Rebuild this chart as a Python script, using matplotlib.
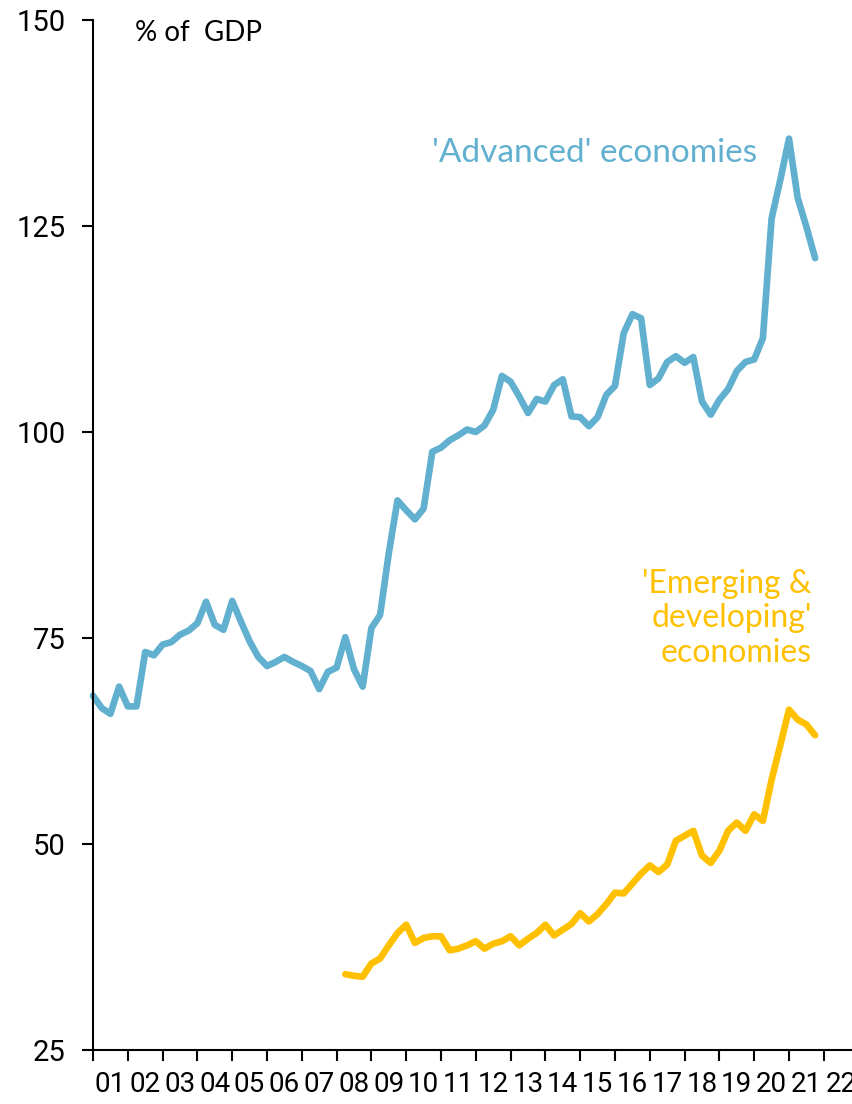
import numpy as np
import matplotlib
matplotlib.use("Agg")
import matplotlib.pyplot as plt
from matplotlib import font_manager
from matplotlib.ticker import FixedLocator, FixedFormatter, NullFormatter

# Quarterly debt-to-GDP ratios, 2001 Q1 - 2021 Q4
advanced = [
    68.0, 66.5, 65.8, 69.1, 66.7, 66.7, 73.3, 72.9, 74.2, 74.5,
    75.4, 75.9, 76.8, 79.4, 76.6, 76.0, 79.5, 77.0, 74.6, 72.7,
    71.6, 72.1, 72.7, 72.1, 71.6, 71.0, 68.8, 70.9, 71.4, 75.1,
    71.2, 69.1, 76.2, 77.8, 85.3, 91.7, 90.5, 89.4, 90.7, 97.6,
    98.1, 99.0, 99.6, 100.3, 100.0, 100.8, 102.7, 106.8, 106.1, 104.3,
    102.3, 104.0, 103.7, 105.7, 106.4, 101.9, 101.8, 100.7, 101.8, 104.5,
    105.6, 112.0, 114.3, 113.8, 105.7, 106.5, 108.5, 109.2, 108.4, 109.1,
    103.7, 102.1, 103.9, 105.2, 107.4, 108.5, 108.8, 111.4, 125.9, 130.6,
    135.6, 128.4, 124.9, 121.1,
]

# Emerging & developing economies, 2008 Q2 - 2021 Q4
emerging = [
    34.2, 34.0, 33.9, 35.5, 36.1, 37.7, 39.2, 40.2, 38.0, 38.6,
    38.8, 38.8, 37.1, 37.3, 37.7, 38.2, 37.3, 37.9, 38.2, 38.8,
    37.7, 38.5, 39.2, 40.2, 38.9, 39.6, 40.3, 41.6, 40.6, 41.5,
    42.7, 44.1, 44.0, 45.2, 46.4, 47.4, 46.6, 47.5, 50.4, 51.0,
    51.6, 48.6, 47.7, 49.2, 51.6, 52.6, 51.6, 53.6, 52.8, 57.8,
    62.0, 66.3, 65.1, 64.5, 63.2,
]

first_year = 2001
emerging_first_year = 2008.25
years = list(range(2001, 2023))
year_labels = [f"{y % 100:02d}" for y in years]
y_ticks = [25, 50, 75, 100, 125, 150]

blue = "#62B0CF"
gold = "#FFC000"

available = {f.name for f in font_manager.fontManager.ttflist}
tick_font = "Roboto" if "Roboto" in available else "DejaVu Sans"
text_font = "Lato" if "Lato" in available else "DejaVu Sans"

fig = plt.figure(figsize=(8.52, 11.04), dpi=100)
ax = fig.add_axes([93 / 852, 54 / 1104, 759 / 852, 1030 / 1104])

x_adv = first_year + np.arange(len(advanced)) / 4
x_em = emerging_first_year + np.arange(len(emerging)) / 4
ax.plot(x_adv, advanced, color=blue, lw=4.8, solid_joinstyle="round",
        solid_capstyle="round", clip_on=False)
ax.plot(x_em, emerging, color=gold, lw=4.8, solid_joinstyle="round",
        solid_capstyle="round", clip_on=False)

ax.set_xlim(2001, 2001 + 759 / 34.8)
ax.set_ylim(25, 150)

for side in ("top", "right"):
    ax.spines[side].set_visible(False)
for side in ("left", "bottom"):
    ax.spines[side].set_linewidth(1.5)
    ax.spines[side].set_color("black")

ax.xaxis.set_major_locator(FixedLocator(years))
ax.xaxis.set_major_formatter(NullFormatter())
ax.xaxis.set_minor_locator(FixedLocator([y + 0.5 for y in years]))
ax.xaxis.set_minor_formatter(FixedFormatter(year_labels))
ax.tick_params(axis="x", which="major", direction="out", length=8, width=1.5)
ax.tick_params(axis="x", which="minor", length=0, pad=15, labelsize=20)
ax.set_yticks(y_ticks)
ax.tick_params(axis="y", direction="out", length=8, width=1.5, pad=12, labelsize=21)
for lab in ax.get_xticklabels(minor=True) + ax.get_yticklabels():
    lab.set_fontfamily(tick_font)

ax.text(0.055, 0.987, "% of  GDP", transform=ax.transAxes, ha="left", va="center",
        fontsize=20, family=text_font, color="black")
ax.text(0.875, 0.871, "'Advanced' economies", transform=ax.transAxes, ha="right",
        va="center", fontsize=24, family=text_font, color=blue)
ax.text(0.947, 0.419, "'Emerging &\ndeveloping'\neconomies", transform=ax.transAxes,
        ha="right", va="center", multialignment="right", fontsize=23,
        family=text_font, color=gold, linespacing=1.2)

fig.savefig("out.png", dpi=100)
